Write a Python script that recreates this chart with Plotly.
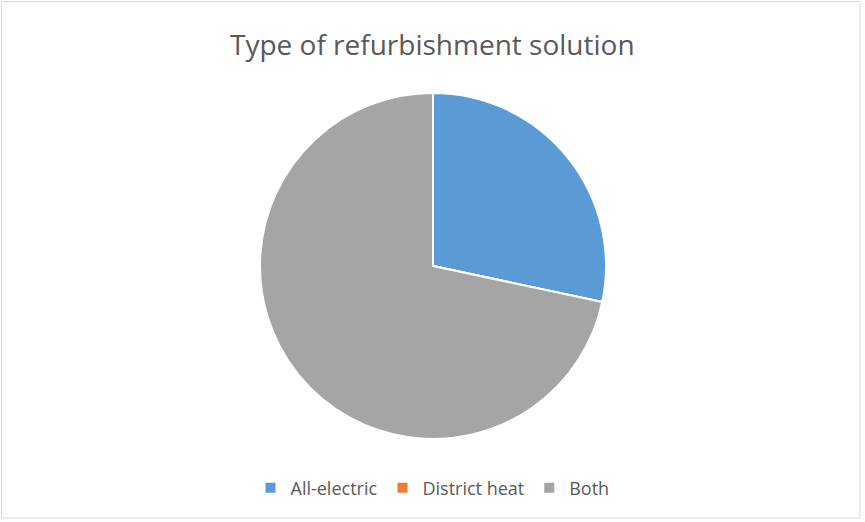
import plotly.graph_objects as go

labels = ["All-electric", "District heat", "Both"]
values = [17, 0, 43]
colors = ["#5B9BD5", "#ED7D31", "#A5A5A5"]

W, H = 865, 522
cx, cy, r = 433, 266, 173

fig = go.Figure(go.Pie(
    labels=labels, values=values, sort=False, direction="clockwise", rotation=0,
    marker=dict(colors=colors, line=dict(color="white", width=2)),
    textinfo="none", hoverinfo="label+value+percent",
    domain=dict(x=[(cx - r) / W, (cx + r) / W], y=[1 - (cy + r) / H, 1 - (cy - r) / H]),
))

fig.update_layout(
    width=W, height=H, margin=dict(l=0, r=0, t=0, b=0),
    paper_bgcolor="white", plot_bgcolor="white",
    font=dict(family="Open Sans, sans-serif", color="#595959"),
    showlegend=True,
    legend=dict(orientation="h", x=0.5, xanchor="center", y=1 - 488 / H, yanchor="middle",
                font=dict(size=18, color="#595959"), itemwidth=30, traceorder="normal"),
    annotations=[dict(text="Type of refurbishment solution", x=0.5, y=1 - 44 / H,
                      xref="paper", yref="paper", showarrow=False,
                      font=dict(size=28, color="#595959"), xanchor="center", yanchor="middle")],
    shapes=[dict(type="rect", xref="paper", yref="paper",
                 x0=1.5 / W, x1=860 / W, y0=1 - 518 / H, y1=1 - 1.5 / H,
                 line=dict(color="#D9D9D9", width=1), fillcolor="rgba(0,0,0,0)")],
)

fig.write_html("out.html")
